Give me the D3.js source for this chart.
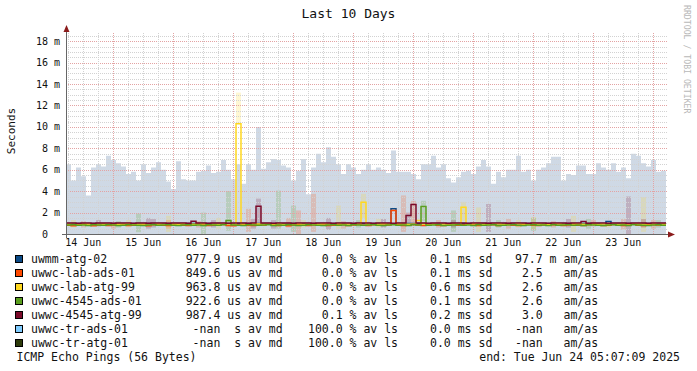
<!DOCTYPE html>
<html>
<head>
<meta charset="utf-8">
<script src="https://cdn.jsdelivr.net/npm/d3@7"></script>
<style>
body { margin: 0; background: #fff; }
text { font-family: "DejaVu Sans Mono", monospace; white-space: pre; }
</style>
</head>
<body>
<svg id="chart" width="697" height="371"></svg>
<script>
// ---- data ----
var endTime = new Date(2025, 5, 24, 5, 7, 9);
var binHours = 2;

var hostNames = ["uwmm-atg-02", "uwwc-lab-ads-01", "uwwc-lab-atg-99", "uwwc-4545-ads-01",
                 "uwwc-4545-atg-99", "uwwc-tr-ads-01", "uwwc-tr-atg-01"];
var hostColors = ["#0b4a86", "#ff4a00", "#ffd820", "#5a9e1e", "#7b0a2a", "#80ccff", "#2e3b0b"];
var legendMedian = ["977.9 us av md", "849.6 us av md", "963.8 us av md", "922.6 us av md",
                    "987.4 us av md", " -nan  s av md", " -nan  s av md"];
var legendLoss = ["  0.0 % av ls", "  0.0 % av ls", "  0.0 % av ls", "  0.0 % av ls",
                  "  0.1 % av ls", "100.0 % av ls", "100.0 % av ls"];
var legendSd = ["0.1 ms sd", "0.1 ms sd", "0.6 ms sd", "0.1 ms sd", "0.2 ms sd", "0.0 ms sd", "0.0 ms sd"];
var legendRatio = ["97.7 m am/as", " 2.5   am/as", " 2.6   am/as", " 2.6   am/as",
                   " 3.0   am/as", "-nan   am/as", "-nan   am/as"];

var yTicks = [0, 2, 4, 6, 8, 10, 12, 14, 16, 18];

// smoke of uwmm-atg-02 (ms), one value per 2 hour bin
var smokeUwmm = [
  6.5, 5.0, 6.2, 5.4, 3.6, 6.2, 6.5, 6.3, 7.3, 6.9, 6.6, 6.3, 5.6, 5.8, 5.0, 6.5, 5.7, 6.2, 6.7, 6.0,
  4.9, 4.2, 6.8, 5.1, 5.0, 5.0, 5.8, 5.9, 6.4, 5.7, 5.8, 6.9, 6.0, 5.1, 6.5, 4.7, 6.5, 6.0, 10.0, 6.1,
  6.7, 7.0, 6.9, 6.4, 6.2, 5.0, 5.9, 7.0, 3.7, 6.2, 7.5, 6.7, 8.1, 7.2, 6.5, 5.6, 6.5, 6.2, 5.6, 6.0,
  6.5, 6.0, 6.2, 6.0, 5.7, 7.8, 5.8, 5.8, 5.8, 5.6, 5.1, 6.5, 6.5, 7.3, 6.2, 6.5, 5.2, 4.8, 5.3, 5.8,
  5.9, 5.6, 6.3, 6.9, 6.3, 4.7, 5.8, 5.3, 6.0, 6.0, 7.3, 5.8, 6.0, 5.0, 6.0, 6.2, 6.6, 7.2, 7.2, 5.0,
  5.6, 5.5, 6.4, 6.4, 5.6, 5.6, 6.6, 6.2, 6.0, 6.6, 5.8, 6.2, 5.2, 7.5, 7.3, 6.6, 6.3, 6.9, 5.8, 5.9
];

// median rtt per host (ms), one value per 2 hour bin
var medianUwmm = [
  0.98, 0.98, 0.98, 0.98, 0.98, 0.98, 0.98, 0.98, 0.98, 0.98, 0.98, 0.98, 0.98, 0.98, 0.98, 0.98, 0.98, 0.98, 0.98, 0.98,
  0.98, 0.98, 0.98, 0.98, 0.98, 0.98, 0.98, 0.98, 0.98, 0.98, 0.98, 0.98, 0.98, 0.98, 0.98, 0.98, 0.98, 0.98, 0.98, 0.98,
  0.98, 0.98, 0.98, 0.98, 0.98, 0.98, 0.98, 0.98, 0.98, 0.98, 0.98, 0.98, 0.98, 0.98, 0.98, 0.98, 0.98, 0.98, 0.98, 0.98,
  0.98, 0.98, 0.98, 0.98, 0.98, 2.35, 0.98, 0.98, 0.98, 0.98, 0.98, 0.98, 0.98, 0.98, 0.98, 0.98, 0.98, 0.98, 0.98, 0.98,
  0.98, 0.98, 0.98, 0.98, 0.98, 0.98, 0.98, 0.98, 0.98, 0.98, 0.98, 0.98, 0.98, 0.98, 0.98, 0.98, 0.98, 0.98, 0.98, 0.98,
  0.98, 0.98, 0.98, 0.98, 0.98, 0.98, 0.98, 0.98, 1.17, 0.98, 0.98, 0.98, 0.98, 0.98, 0.98, 0.98, 0.98, 0.98, 0.98, 0.98
];
var medianLabAds = [
  0.82, 0.78, 0.86, 0.9, 0.82, 0.78, 0.85, 0.88, 0.8, 0.84, 0.9, 0.86, 0.8, 0.82, 0.88, 0.84, 0.78, 0.86, 0.9, 0.82,
  0.8, 0.85, 0.88, 0.82, 0.8, 0.86, 0.9, 0.84, 0.8, 0.82, 0.86, 0.88, 0.8, 0.78, 0.84, 0.86, 0.82, 0.8, 0.88, 0.84,
  0.9, 0.86, 0.8, 0.82, 0.78, 0.84, 0.88, 0.82, 0.8, 0.86, 0.9, 0.84, 0.8, 0.82, 0.86, 0.88, 0.8, 0.84, 0.9, 0.82,
  0.8, 0.86, 0.88, 0.82, 0.84, 2.2, 0.86, 0.8, 0.82, 0.88, 0.84, 0.8, 0.86, 0.9, 0.82, 0.8, 0.84, 0.88, 0.82, 0.86,
  0.9, 0.84, 0.8, 0.82, 0.88, 0.86, 0.8, 0.84, 0.9, 0.82, 0.8, 0.86, 0.88, 0.82, 0.8, 0.84, 0.9, 0.86, 0.82, 0.8,
  0.84, 0.88, 0.82, 0.8, 0.86, 0.9, 0.84, 0.8, 0.82, 0.88, 0.86, 0.8, 0.84, 0.9, 0.82, 0.8, 0.86, 0.88, 0.84, 0.82
];
var medianLabAtg = [
  0.94, 0.92, 0.96, 0.92, 0.94, 0.96, 0.92, 0.9, 0.94, 0.96, 0.92, 0.94, 0.96, 0.9, 0.92, 0.94, 0.96, 0.92, 0.94, 0.9,
  0.96, 0.94, 0.92, 0.96, 0.94, 0.9, 0.92, 0.96, 0.94, 0.92, 0.9, 0.94, 0.96, 0.92, 10.3, 0.94, 0.92, 0.96, 0.94, 0.9,
  0.92, 0.94, 0.96, 0.92, 0.9, 0.94, 0.96, 0.92, 0.94, 0.9, 0.92, 0.96, 0.94, 0.92, 0.96, 0.9, 0.94, 0.92, 0.96, 2.97,
  0.94, 0.92, 0.9, 0.96, 0.94, 0.92, 0.96, 0.94, 0.9, 0.92, 1.25, 0.94, 0.96, 0.92, 0.9, 0.94, 0.96, 0.92, 0.94, 2.5,
  0.92, 0.96, 0.94, 0.9, 0.92, 0.94, 0.96, 0.92, 0.94, 0.9, 0.96, 0.94, 0.92, 0.96, 0.94, 0.9, 0.92, 0.94, 0.96, 0.92,
  0.9, 0.94, 0.96, 0.92, 0.94, 0.9, 0.92, 0.96, 0.94, 0.92, 0.9, 0.94, 0.96, 0.92, 0.94, 0.9, 0.96, 0.94, 0.92, 0.94
];
var medianAds4545 = [
  0.84, 0.86, 0.82, 0.84, 0.8, 0.86, 0.84, 0.82, 0.86, 0.84, 0.8, 0.82, 0.86, 0.84, 0.82, 0.8, 0.84, 0.86, 0.82, 0.84,
  0.86, 0.82, 0.8, 0.84, 0.86, 0.82, 0.84, 0.8, 0.86, 0.84, 0.82, 0.86, 1.26, 0.84, 0.82, 0.8, 0.86, 0.84, 0.82, 0.84,
  0.86, 0.8, 0.84, 0.82, 0.86, 0.84, 0.8, 0.82, 0.86, 0.84, 0.82, 0.8, 0.84, 0.86, 0.82, 0.84, 0.8, 0.86, 0.84, 0.82,
  0.84, 0.86, 0.82, 0.8, 0.84, 0.86, 0.82, 0.84, 0.8, 0.86, 0.84, 2.57, 0.82, 0.84, 0.86, 0.8, 0.82, 0.84, 0.86, 0.82,
  0.84, 0.8, 0.86, 0.82, 0.84, 0.86, 0.8, 0.82, 0.84, 0.86, 0.82, 0.8, 0.84, 0.86, 0.82, 0.84, 0.8, 0.86, 0.82, 0.84,
  0.86, 0.82, 0.84, 0.8, 0.86, 0.84, 0.82, 0.8, 0.84, 0.86, 0.82, 0.84, 0.8, 0.86, 0.84, 0.82, 0.8, 0.84, 0.86, 0.82
];
var medianAtg4545 = [
  1.02, 1.02, 1.0, 1.02, 1.02, 1.0, 1.02, 1.02, 1.02, 1.0, 1.02, 1.02, 1.02, 1.0, 1.02, 1.02, 1.0, 1.02, 1.02, 1.02,
  1.0, 1.02, 1.02, 1.02, 1.0, 1.2, 1.02, 1.02, 1.0, 1.02, 1.02, 1.02, 1.0, 1.02, 1.02, 1.02, 1.0, 1.02, 2.6, 1.02,
  1.02, 1.0, 1.02, 1.02, 1.02, 1.0, 1.02, 1.02, 1.02, 1.0, 1.02, 1.02, 1.02, 1.0, 1.02, 1.02, 1.02, 1.0, 1.02, 1.02,
  1.02, 1.0, 1.02, 1.02, 1.02, 1.0, 1.02, 1.02, 1.73, 2.75, 1.02, 1.02, 1.0, 1.02, 1.02, 1.02, 1.0, 1.02, 1.02, 1.02,
  1.0, 1.02, 1.02, 1.02, 1.0, 1.02, 1.02, 1.02, 1.0, 1.02, 1.02, 1.02, 1.0, 1.02, 1.02, 1.02, 1.0, 1.02, 1.02, 1.02,
  1.0, 1.02, 1.02, 1.17, 1.0, 1.02, 1.02, 1.02, 1.0, 1.02, 1.02, 1.02, 1.0, 1.02, 1.02, 1.02, 1.0, 1.02, 1.02, 1.02
];

// spread bars around the medians: [bin, low ms, high ms]
var spreadLabAds = [[3, 0.6, 1.2], [9, 0.5, 1.1], [20, 0.5, 1.3], [26, 0.6, 1.2], [36, 0.2, 2.35], [44, 0.6, 1.5],
  [46, 0.0, 2.2], [49, 0.2, 3.75], [55, 0.5, 1.2], [67, 0.2, 3.6], [69, 1.0, 3.1], [74, 0.6, 1.3], [88, 0.5, 1.4],
  [97, 0.6, 1.2], [105, 0.7, 1.3], [111, 0.4, 1.4], [117, 0.5, 1.3]];
var spreadLabAtg = [[1, 0.6, 1.3], [12, 0.6, 1.3], [20, 0.2, 1.7], [30, 0.5, 1.5], [34, 10.3, 13.2], [47, 0.6, 1.3],
  [54, 0.5, 2.65], [59, 1.5, 3.75], [62, 0.6, 1.4], [79, 1.2, 3.0], [82, 0.2, 2.5], [90, 0.6, 1.3], [93, 0.4, 1.6],
  [101, 0.2, 1.7], [108, 0.6, 1.2], [115, 0.2, 3.45]];
var spreadAds4545 = [[10, 0.6, 1.2], [14, 0.17, 1.9], [27, 0.0, 2.0], [32, 0.3, 4.0], [42, 0.5, 4.05], [45, 0.2, 2.65],
  [58, 0.6, 1.3], [71, 1.2, 3.1], [77, 0.2, 2.2], [86, 0.6, 1.3], [93, 0.3, 1.5], [104, 0.5, 1.4], [118, 0.6, 1.3]];
var spreadAtg4545 = [[6, 0.7, 1.3], [16, 0.5, 1.5], [17, 0.6, 1.4], [29, 0.6, 1.3], [37, 0.5, 1.4], [38, 0.95, 3.3],
  [41, 0.5, 1.3], [52, 0.4, 1.5], [63, 0.6, 1.4], [68, 0.8, 2.0], [77, 0.6, 1.3], [84, 0.2, 2.8], [100, 0.6, 1.4],
  [112, 0.0, 3.5], [115, 0.6, 1.4]];

// ---- drawing ----
var svg = d3.select("#chart");
var startTime = d3.timeDay.offset(endTime, -10);

var x = d3.scaleTime().domain([startTime, endTime]).range([66, 666]);
var y = d3.scaleLinear().domain([0, 18.67]).range([234, 34]);

function binStart(i) { return d3.timeHour.offset(startTime, i * binHours); }
function binEnd(i) { return d3.timeHour.offset(startTime, (i + 1) * binHours); }
function crisp(v) { return Math.round(v) + 0.5; }

// uwmm smoke area
var areaData = smokeUwmm.map(function(v, i) { return { t: binStart(i), v: v }; });
areaData.push({ t: endTime, v: smokeUwmm[smokeUwmm.length - 1] });
svg.append("path")
  .datum(areaData)
  .attr("fill", "#cfd9e5")
  .attr("d", d3.area().curve(d3.curveStepAfter)
    .x(function(d) { return x(d.t); })
    .y0(y(0))
    .y1(function(d) { return y(d.v); }));

// spread bars
var spreads = [
  { data: spreadLabAds, color: hostColors[1] },
  { data: spreadLabAtg, color: hostColors[2] },
  { data: spreadAds4545, color: hostColors[3] },
  { data: spreadAtg4545, color: hostColors[4] }
];
spreads.forEach(function(s) {
  svg.append("g").selectAll("rect")
    .data(s.data)
    .enter()
    .append("rect")
    .attr("x", function(d) { return x(binStart(d[0])); })
    .attr("width", function(d) { return x(binEnd(d[0])) - x(binStart(d[0])); })
    .attr("y", function(d) { return y(d[2]); })
    .attr("height", function(d) { return y(d[1]) - y(d[2]); })
    .attr("fill", s.color)
    .attr("fill-opacity", 0.2);
});

// grid
var grid = svg.append("g");
var hLines = d3.range(1, 38).map(function(k) { return k * 0.5; });
grid.selectAll(".hgrid")
  .data(hLines)
  .enter()
  .append("line")
  .attr("x1", 66).attr("x2", 668)
  .attr("y1", function(d) { return crisp(y(d)); })
  .attr("y2", function(d) { return crisp(y(d)); })
  .attr("stroke", function(d) { return d % 2 === 0 ? "#e3a3a3" : "#d2d2d2"; })
  .attr("stroke-dasharray", "1,1");

var vLines = d3.timeHour.every(6).range(startTime, endTime);
grid.selectAll(".vgrid")
  .data(vLines)
  .enter()
  .append("line")
  .attr("y1", 234).attr("y2", 32)
  .attr("x1", function(d) { return crisp(x(d)); })
  .attr("x2", function(d) { return crisp(x(d)); })
  .attr("stroke", function(d) { return d.getHours() === 0 ? "#e3a3a3" : "#d2d2d2"; })
  .attr("stroke-dasharray", "1,1");

// median lines
var medians = [
  { data: medianUwmm, color: hostColors[0] },
  { data: medianLabAds, color: hostColors[1] },
  { data: medianLabAtg, color: hostColors[2] },
  { data: medianAds4545, color: hostColors[3] },
  { data: medianAtg4545, color: hostColors[4] }
];
var medianLine = d3.line().curve(d3.curveStepAfter)
  .x(function(d) { return x(d.t); })
  .y(function(d) { return y(d.v); });
medians.forEach(function(m) {
  var pts = m.data.map(function(v, i) { return { t: binStart(i), v: v }; });
  pts.push({ t: endTime, v: m.data[m.data.length - 1] });
  svg.append("path")
    .datum(pts)
    .attr("fill", "none")
    .attr("stroke", m.color)
    .attr("stroke-width", 1.5)
    .attr("d", medianLine);
});

// axes
svg.append("line").attr("x1", 62).attr("x2", 670).attr("y1", 234.5).attr("y2", 234.5)
  .attr("stroke", "#666").attr("stroke-width", 1);
svg.append("line").attr("x1", 66.5).attr("x2", 66.5).attr("y1", 238).attr("y2", 30)
  .attr("stroke", "#666").attr("stroke-width", 1);
svg.append("path").attr("d", "M63.5,32 L69.5,32 L66.5,25 Z").attr("fill", "#8b1c1c");
svg.append("path").attr("d", "M668,231.5 L668,237.5 L675,234.5 Z").attr("fill", "#8b1c1c");

// y labels
var yl = svg.append("g");
yl.selectAll(".ynum")
  .data(yTicks)
  .enter()
  .append("text")
  .attr("x", 48)
  .attr("y", function(d) { return y(d) + 3.5; })
  .attr("text-anchor", "end")
  .attr("font-size", "10px")
  .attr("fill", "#111")
  .text(function(d) { return d; });
yl.selectAll(".yunit")
  .data(yTicks.filter(function(d) { return d > 0; }))
  .enter()
  .append("text")
  .attr("x", 54)
  .attr("y", function(d) { return y(d) + 3.5; })
  .attr("font-size", "10px")
  .attr("fill", "#111")
  .text("m");

// x labels at noon
var fmt = d3.timeFormat("%d %b");
var noons = d3.timeDay.range(d3.timeDay.floor(startTime), endTime)
  .map(function(d) { return d3.timeHour.offset(d, 12); })
  .filter(function(d) { return d > startTime && d < endTime; });
svg.append("g").selectAll("text")
  .data(noons)
  .enter()
  .append("text")
  .attr("x", function(d) { return x(d); })
  .attr("y", 245.5)
  .attr("text-anchor", "middle")
  .attr("font-size", "10px")
  .attr("fill", "#111")
  .text(function(d) { return fmt(d); });

// titles
svg.append("text").attr("x", 348.5).attr("y", 18).attr("text-anchor", "middle")
  .attr("font-size", "13px").attr("fill", "#111").text("Last 10 Days");
svg.append("text").attr("transform", "translate(15,131) rotate(-90)").attr("text-anchor", "middle")
  .attr("font-size", "11px").attr("fill", "#111").text("Seconds");
svg.append("text").attr("transform", "translate(684,5) rotate(90)")
  .attr("font-size", "8.2px").attr("fill", "#b8b8b8").text("RRDTOOL / TOBI OETIKER");

// legend
var legend = svg.append("g").attr("font-size", "11.5px").attr("fill", "#111");
var rows = legend.selectAll("g")
  .data(hostNames)
  .enter()
  .append("g")
  .attr("transform", function(d, i) { return "translate(0," + (262.5 + i * 14) + ")"; });
rows.append("rect")
  .attr("x", 15.5).attr("y", -7).attr("width", 7).attr("height", 7)
  .attr("fill", function(d, i) { return hostColors[i]; })
  .attr("stroke", "#000").attr("stroke-width", 1);
rows.append("text").attr("x", 31).text(function(d) { return d; });
rows.append("text").attr("x", 185.7).text(function(d, i) { return legendMedian[i]; });
rows.append("text").attr("x", 308).text(function(d, i) { return legendLoss[i]; });
rows.append("text").attr("x", 430).text(function(d, i) { return legendSd[i]; });
rows.append("text").attr("x", 515).text(function(d, i) { return legendRatio[i]; });

legend.append("text").attr("x", 16.5).attr("y", 361).text("ICMP Echo Pings (56 Bytes)");
legend.append("text").attr("x", 680).attr("y", 361).attr("text-anchor", "end")
  .text("end: Tue Jun 24 05:07:09 2025");
</script>
</body>
</html>
